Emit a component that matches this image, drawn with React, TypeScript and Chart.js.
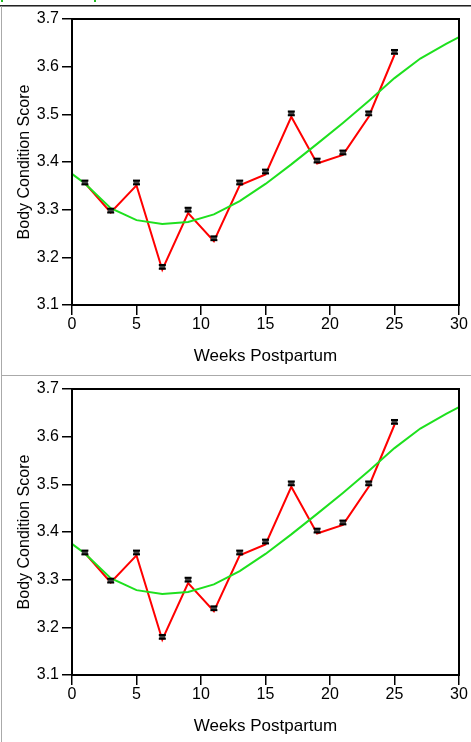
import React, { useEffect, useRef } from "react";
import { Chart, registerables } from "chart.js";

Chart.register(...registerables);

const weeks = [1, 3, 5, 7, 9, 11, 13, 15, 17, 19, 21, 23, 25];
const observedMeans = [3.357, 3.298, 3.357, 3.18, 3.3, 3.24, 3.357, 3.38, 3.502, 3.403, 3.42, 3.502, 3.631];
const standardErrors = [0.004, 0.004, 0.004, 0.004, 0.004, 0.004, 0.004, 0.004, 0.004, 0.004, 0.004, 0.004, 0.004];
const fittedMeans = [3.356, 3.294, 3.351, 3.174, 3.293, 3.234, 3.351, 3.374, 3.495, 3.397, 3.415, 3.495, 3.625];
const curveWeeks = [0, 1, 3, 5, 7, 9, 11, 13, 15, 17, 19, 21, 23, 25, 27, 29, 30];
const curveValues = [3.375, 3.355, 3.303, 3.278, 3.27, 3.274, 3.29, 3.318, 3.354, 3.395, 3.438, 3.482, 3.528, 3.576, 3.617, 3.648, 3.662];
const xTicks = [0, 5, 10, 15, 20, 25, 30];
const yTicks = [3.1, 3.2, 3.3, 3.4, 3.5, 3.6, 3.7];

const FONT = "'Liberation Sans', Arial, Helvetica, sans-serif";

const framePlugin = {
  id: "frameAndErrors",
  afterDatasetsDraw(chart: any) {
    const { ctx, chartArea, scales } = chart;
    ctx.save();
    const xs = scales.x;
    const ys = scales.y;
    weeks.forEach((w, i) => {
      const px = xs.getPixelForValue(w);
      const pTop = ys.getPixelForValue(observedMeans[i] + standardErrors[i]);
      const pBot = ys.getPixelForValue(observedMeans[i] - standardErrors[i]);
      ctx.fillStyle = "#444";
      ctx.fillRect(px - 3, pTop, 6, pBot - pTop);
      ctx.fillStyle = "#000";
      ctx.fillRect(px - 3.5, pTop - 1, 7, 2);
      ctx.fillRect(px - 3.5, pBot - 1, 7, 2);
    });
    ctx.lineWidth = 2;
    ctx.strokeStyle = "#000";
    ctx.strokeRect(chartArea.left, chartArea.top, chartArea.right - chartArea.left, chartArea.bottom - chartArea.top);
    ctx.restore();
  },
};

function Panel() {
  const ref = useRef<HTMLCanvasElement | null>(null);
  useEffect(() => {
    if (!ref.current) return;
    const chart = new Chart(ref.current, {
      type: "scatter",
      data: {
        datasets: [
          {
            label: "Fitted curve",
            data: curveWeeks.map((w, i) => ({ x: w, y: curveValues[i] })),
            showLine: true,
            borderColor: "#1ee01e",
            borderWidth: 2,
            pointRadius: 0,
            tension: 0,
          },
          {
            label: "Model means",
            data: weeks.map((w, i) => ({ x: w, y: fittedMeans[i] })),
            showLine: true,
            borderColor: "#ff0000",
            borderWidth: 2,
            pointRadius: 0,
            tension: 0,
          },
        ],
      },
      options: {
        animation: false,
        responsive: true,
        maintainAspectRatio: false,
        layout: { padding: { left: 0, top: 13, right: 12, bottom: 0 } },
        plugins: { legend: { display: false }, tooltip: { enabled: false } },
        scales: {
          x: {
            type: "linear",
            min: 0,
            max: 30,
            afterBuildTicks: (s: any) => {
              s.ticks = xTicks.map((v) => ({ value: v }));
            },
            afterFit: (s: any) => {
              s.height = 67;
            },
            ticks: { color: "#000", font: { family: FONT, size: 16 }, padding: 0, maxRotation: 0 },
            grid: { display: true, drawOnChartArea: false, drawTicks: true, tickLength: 10, color: "#000", lineWidth: 1.5 },
            border: { display: false },
            title: { display: true, text: "Weeks Postpartum", color: "#000", font: { family: FONT, size: 17 }, padding: { top: 0, bottom: 5 } },
          },
          y: {
            type: "linear",
            min: 3.1,
            max: 3.7,
            afterBuildTicks: (s: any) => {
              s.ticks = yTicks.map((v) => ({ value: v }));
            },
            afterFit: (s: any) => {
              s.width = 70;
            },
            ticks: { color: "#000", font: { family: FONT, size: 16 }, padding: 3, callback: (v: any) => Number(v).toFixed(1) },
            grid: { display: true, drawOnChartArea: false, drawTicks: true, tickLength: 10, color: "#000", lineWidth: 1.5 },
            border: { display: false },
            title: { display: true, text: "Body Condition Score", color: "#000", font: { family: FONT, size: 16 }, padding: { top: 13, bottom: 0 } },
          },
        },
      },
      plugins: [framePlugin],
    });
    return () => chart.destroy();
  }, []);
  return (
    <div style={{ position: "absolute", left: 2, top: 0, width: 469, height: 366 }}>
      <canvas ref={ref} />
    </div>
  );
}

export default function App() {
  return (
    <div style={{ position: "absolute", left: 0, top: 0, width: 471, height: 742, background: "#fff", overflow: "hidden" }}>
      <div style={{ position: "absolute", left: 1, top: 0, width: 2, height: 2, background: "#22bb22" }} />
      <div style={{ position: "absolute", left: 94, top: 0, width: 2, height: 2, background: "#22bb22" }} />
      <div style={{ position: "absolute", left: 0, top: 5, width: 471, height: 1, background: "#222" }} />
      <div style={{ position: "absolute", left: 0, top: 6, width: 471, height: 1, background: "#888" }} />
      <div style={{ position: "absolute", left: 1, top: 6, width: 1, height: 736, background: "#aaa" }} />
      <div style={{ position: "absolute", left: 1, top: 375, width: 470, height: 1, background: "#aaa" }} />
      <div style={{ position: "absolute", left: 0, top: 6, width: 471, height: 369 }}>
        <Panel />
      </div>
      <div style={{ position: "absolute", left: 0, top: 376, width: 471, height: 366 }}>
        <Panel />
      </div>
    </div>
  );
}
